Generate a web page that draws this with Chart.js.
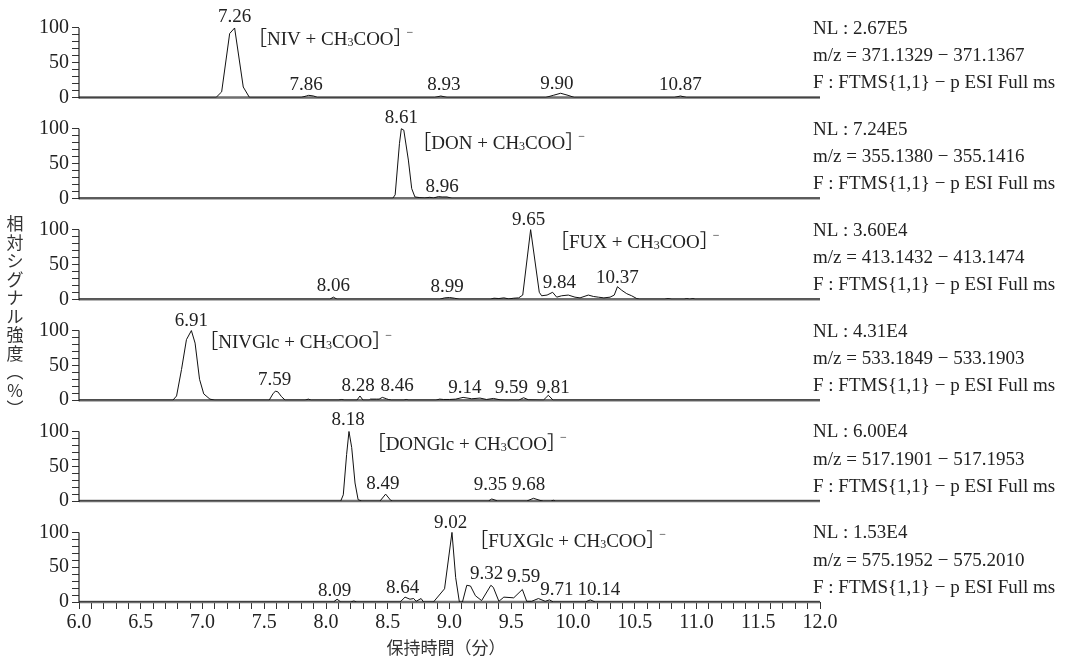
<!DOCTYPE html>
<html>
<head>
<meta charset="utf-8">
<script src="https://cdn.jsdelivr.net/npm/chart.js@4.4.1/dist/chart.umd.min.js"></script>
<style>
  html, body { margin: 0; padding: 0; background: #fff; }
</style>
</head>
<body>
<canvas id="myChart" width="1066" height="664"></canvas>
<script>
// 크로마토그램 데이터 (시간, 상대강도 %)
const nivTime = [6.0, 7.11, 7.155, 7.22, 7.26, 7.33, 7.38, 7.80, 7.84, 7.86, 7.90, 7.93, 8.88, 8.93, 8.98, 9.78, 9.84, 9.90, 9.96, 10.01, 10.82, 10.87, 10.92, 12.0];
const nivInt = [0, 0, 8, 92, 100, 15, 0, 0, 2, 3, 2, 0, 0, 2, 0, 0, 3, 6, 3, 0, 0, 2, 0, 0];

const donTime = [6.0, 8.54, 8.56, 8.595, 8.61, 8.63, 8.667, 8.694, 8.72, 8.76, 8.80, 8.84, 8.87, 8.91, 8.94, 8.98, 9.02, 12.0];
const donInt = [0, 0, 5, 79, 100, 98, 55, 14, 2, 1, 0.5, 1.5, 0.5, 2.5, 2, 2, 0, 0];

const fuxTime = [6.0, 8.03, 8.06, 8.09, 8.92, 8.96, 9.00, 9.04, 9.08, 9.33, 9.36, 9.40, 9.44, 9.48, 9.52, 9.56, 9.593, 9.657, 9.727, 9.746, 9.79, 9.835, 9.868, 9.908, 9.962, 10.016, 10.057, 10.124, 10.165, 10.205, 10.25, 10.30, 10.334, 10.36, 10.394, 10.435, 10.475, 10.516, 10.54, 10.74, 10.77, 10.80, 10.90, 10.92, 10.945, 10.97, 10.99, 12.0];
const fuxInt = [0, 0, 3, 0, 0, 2, 2.5, 1.5, 0, 0, 1.5, 1, 2, 0.5, 1.5, 2, 6, 100, 10, 5, 6, 10, 3, 5, 6, 3, 2, 6, 4, 3, 2, 3, 6, 18, 13, 8, 5, 1, 0, 0, 1, 0, 0, 1, 0, 1, 0, 0];

const nivGlcTime = [6.0, 6.76, 6.79, 6.83, 6.87, 6.91, 6.94, 6.976, 7.01, 7.06, 7.10, 7.54, 7.57, 7.59, 7.61, 7.64, 7.67, 7.83, 7.857, 7.88, 8.10, 8.127, 8.15, 8.25, 8.275, 8.30, 8.35, 8.36, 8.41, 8.43, 8.456, 8.49, 8.505, 8.53, 8.63, 8.65, 8.67, 8.89, 8.92, 8.95, 9.0, 9.05, 9.11, 9.18, 9.247, 9.30, 9.355, 9.41, 9.45, 9.56, 9.60, 9.64, 9.76, 9.80, 9.84, 12.0];
const nivGlcInt = [0, 0, 6, 44, 87, 100, 82, 30, 9, 1.5, 0, 0, 9, 13, 12, 5, 0, 0, 1.5, 0, 0, 1, 0, 0, 6, 0, 0, 1.5, 1.5, 1.5, 4, 2, 1, 0, 0, 1, 0, 0, 1.5, 1, 1, 1.5, 4, 2, 3, 1, 2.5, 0.5, 0, 0, 3.5, 0.5, 0, 7, 0, 0];

const donGlcTime = [6.0, 8.119, 8.14, 8.167, 8.186, 8.208, 8.235, 8.26, 8.29, 8.437, 8.483, 8.524, 8.54, 9.314, 9.342, 9.376, 9.39, 9.625, 9.68, 9.733, 9.76, 9.82, 9.84, 9.86, 12.0];
const donGlcInt = [0, 0, 9, 67, 100, 77, 26, 2, 0, 0, 10, 1, 0, 0, 3, 1, 0, 0, 4, 1, 0, 0, 1.2, 0, 0];

const fuxGlcTime = [6.0, 8.06, 8.09, 8.12, 8.20, 8.225, 8.25, 8.60, 8.64, 8.68, 8.71, 8.73, 8.77, 8.79, 8.87, 8.96, 9.02, 9.05, 9.08, 9.105, 9.14, 9.17, 9.21, 9.26, 9.335, 9.355, 9.40, 9.44, 9.52, 9.59, 9.625, 9.665, 9.72, 9.775, 9.81, 9.84, 10.10, 10.14, 10.18, 12.0];
const fuxGlcInt = [0, 0, 4, 0, 0, 1.5, 0, 0, 7, 4, 5, 1, 5, 0, 0, 19, 100, 35, 0, 0, 24, 23, 9, 2, 24, 21, 1, 7, 6, 18, 1, 1, 5, 1, 3, 0, 0, 3, 0, 0];

// 피크 라벨 (텍스트, 위치 시간, 라벨 밑단 높이 %)
const nivPeaks = ["7.26", "7.86", "8.93", "9.90", "10.87"];
const nivPeakX = [7.26, 7.84, 8.955, 9.87, 10.87];
const nivPeakH = [108, 10, 10, 12, 10];
const donPeaks = ["8.61", "8.96"];
const donPeakX = [8.61, 8.94];
const donPeakH = [108, 9.5];
const fuxPeaks = ["8.06", "8.99", "9.65", "9.84", "10.37"];
const fuxPeakX = [8.06, 8.98, 9.64, 9.89, 10.36];
const fuxPeakH = [12, 11, 106, 16, 23];
const nivGlcPeaks = ["6.91", "7.59", "8.28", "8.46", "9.14", "9.59", "9.81"];
const nivGlcPeakX = [6.91, 7.585, 8.26, 8.575, 9.125, 9.50, 9.84];
const nivGlcPeakH = [107, 22, 13, 13, 11, 11, 11];
const donGlcPeaks = ["8.18", "8.49", "9.35", "9.68"];
const donGlcPeakX = [8.18, 8.46, 9.33, 9.64];
const donGlcPeakH = [109, 17, 16, 16];
const fuxGlcPeaks = ["8.09", "8.64", "9.02", "9.32", "9.59", "9.71", "10.14"];
const fuxGlcPeakX = [8.07, 8.62, 9.01, 9.30, 9.60, 9.87, 10.21];
const fuxGlcPeakH = [9, 13, 107, 33, 29, 10, 10];

// 패널 정보
const compounds = ["NIV", "DON", "FUX", "NIVGlc", "DONGlc", "FUXGlc"];
const nlValues = ["2.67E5", "7.24E5", "3.60E4", "4.31E4", "6.00E4", "1.53E4"];
const mzRanges = ["371.1329 − 371.1367", "355.1380 − 355.1416", "413.1432 − 413.1474",
                  "533.1849 − 533.1903", "517.1901 − 517.1953", "575.1952 − 575.2010"];
const scanFilter = "F : FTMS{1,1} − p ESI Full ms";
const chemX = [7.45, 8.78, 9.895, 7.055, 8.41, 9.24];
const chemLevel = [83, 78, 81, 82, 81, 86];

// 축 라벨
const yTickLabels = [0, 50, 100];
const xTickLabels = ["6.0", "6.5", "7.0", "7.5", "8.0", "8.5", "9.0", "9.5", "10.0", "10.5", "11.0", "11.5", "12.0"];
const xTitle = "保持時間（分）";
const yTitle = "相対シグナル強度（%）";

const serif = "'Liberation Serif', 'Noto Sans CJK JP', serif";
const cjk = "'Noto Sans CJK JP', sans-serif";

const traces = [[nivTime, nivInt], [donTime, donInt], [fuxTime, fuxInt],
                [nivGlcTime, nivGlcInt], [donGlcTime, donGlcInt], [fuxGlcTime, fuxGlcInt]];
const peakTexts = [nivPeaks, donPeaks, fuxPeaks, nivGlcPeaks, donGlcPeaks, fuxGlcPeaks];
const peakXs = [nivPeakX, donPeakX, fuxPeakX, nivGlcPeakX, donGlcPeakX, fuxGlcPeakX];
const peakHs = [nivPeakH, donPeakH, fuxPeakH, nivGlcPeakH, donGlcPeakH, fuxGlcPeakH];

const panelIds = ["p1", "p2", "p3", "p4", "p5", "p6"];
const yMax = [140.3, 145, 145, 145, 145, 145];
const panelWeights = [97.5, 101, 101, 101, 101, 101];

// 화학식 라벨: ［NAME + CH3COO］⁻
function drawChem(ctx, x, y, name) {
  const big = "19px " + serif;
  const small = "12px " + serif;
  const parts = [
    ["［" + name + " + CH", big, 0, 0],
    ["3", small, 3, 0],
    ["COO］", big, 0, -6],
    ["−", small, -7, 0],
  ];
  x -= 10; // 전각 괄호 앞 여백 보정
  ctx.textAlign = "left";
  ctx.textBaseline = "middle";
  parts.forEach(function (p) {
    ctx.font = p[1];
    ctx.fillText(p[0], x, y + p[2]);
    x += ctx.measureText(p[0]).width + p[3];
  });
}

const panelPlugin = {
  id: "panels",
  beforeDatasetsDraw(chart) {
    const ctx = chart.ctx;
    const xs = chart.scales.x;
    ctx.save();
    panelIds.forEach(function (id) {
      const ys = chart.scales[id];
      const y0 = ys.getPixelForValue(0);
      // 기준선 (회색)
      ctx.strokeStyle = "#6e6e6e";
      ctx.lineWidth = 2.5;
      ctx.beginPath();
      ctx.moveTo(xs.left, y0);
      ctx.lineTo(xs.right, y0);
      ctx.stroke();
      // 세로축 선
      ctx.strokeStyle = "#222";
      ctx.lineWidth = 1.2;
      ctx.beginPath();
      ctx.moveTo(xs.left, y0 + 1);
      ctx.lineTo(xs.left, ys.getPixelForValue(100));
      ctx.stroke();
    });
    ctx.restore();
  },
  afterDraw(chart) {
    const ctx = chart.ctx;
    const xs = chart.scales.x;
    ctx.save();
    ctx.fillStyle = "#222";
    panelIds.forEach(function (id, i) {
      const ys = chart.scales[id];
      // 피크 라벨
      ctx.font = "19px " + serif;
      ctx.textAlign = "center";
      ctx.textBaseline = "alphabetic";
      peakTexts[i].forEach(function (s, k) {
        ctx.fillText(s, xs.getPixelForValue(peakXs[i][k]), ys.getPixelForValue(peakHs[i][k]));
      });
      drawChem(ctx, xs.getPixelForValue(chemX[i]), ys.getPixelForValue(chemLevel[i]), compounds[i]);
      // 오른쪽 정보
      ctx.font = "19px " + serif;
      ctx.textAlign = "left";
      ctx.textBaseline = "middle";
      const rx = xs.right - 7;
      const top = ys.getPixelForValue(100) + 1;
      const bot = ys.getPixelForValue(0) - 14;
      ctx.fillText("NL : " + nlValues[i], rx, top);
      ctx.fillText("m/z = " + mzRanges[i], rx, (top + bot) / 2);
      ctx.fillText(scanFilter, rx, bot);
    });
    // 축 제목
    ctx.fillStyle = "#333";
    ctx.font = "17px " + cjk;
    ctx.textAlign = "center";
    ctx.textBaseline = "middle";
    ctx.fillText(xTitle, 446, 648);
    Array.from(yTitle).forEach(function (c, k) {
      const v = c === "（" ? "︵" : c === "）" ? "︶" : c === "%" ? "％" : c;
      ctx.fillText(v, 15, 224 + k * 18.5);
    });
    ctx.restore();
  },
};

const scales = {
  x: {
    type: "linear",
    position: "bottom",
    min: 6,
    max: 12,
    border: { display: false },
    grid: { drawOnChartArea: false, tickLength: 7, tickColor: "#333", tickWidth: 1 },
    ticks: {
      stepSize: 0.1,
      maxTicksLimit: 100,
      autoSkip: false,
      maxRotation: 0,
      minRotation: 0,
      padding: 2,
      color: "#222",
      font: { family: serif, size: 20 },
      callback: function (value) {
        const s = (Math.round(value * 10) / 10).toFixed(1);
        return xTickLabels.includes(s) ? s : "";
      },
    },
    afterFit: function (axis) {
      axis.height = 40;
      axis.paddingLeft = 0;
      axis.paddingRight = 0;
    },
  },
};

panelIds.forEach(function (id, i) {
  scales[id] = {
    type: "linear",
    position: "left",
    stack: "panels",
    stackWeight: panelWeights[i],
    weight: 6 - i,
    min: 0,
    max: yMax[i],
    border: { display: false },
    grid: { drawOnChartArea: false, tickLength: 7, tickColor: "#333", tickWidth: 1 },
    ticks: {
      stepSize: 10,
      maxTicksLimit: 100,
      autoSkip: false,
      padding: 3,
      color: "#222",
      font: { family: serif, size: 20 },
      callback: function (value) {
        return yTickLabels.includes(value) ? String(value) : "";
      },
    },
    afterBuildTicks: function (axis) {
      axis.ticks = axis.ticks.filter(function (t) { return t.value <= 100; });
    },
    afterFit: function (axis) {
      axis.width = 79;
      axis.paddingTop = 0;
      axis.paddingBottom = 0;
    },
  };
});

const ctx = document.getElementById("myChart").getContext("2d");
const myChart = new Chart(ctx, {
  type: "line",
  data: {
    datasets: traces.map(function (tr, i) {
      return {
        data: tr[0].map(function (t, k) { return { x: t, y: tr[1][k] }; }),
        yAxisID: panelIds[i],
        borderColor: "#111",
        borderWidth: 1,
        pointRadius: 0,
        tension: 0,
        fill: false,
      };
    }),
  },
  options: {
    responsive: false,
    animation: false,
    devicePixelRatio: 1,
    layout: { padding: { left: 0, right: 246, top: 0, bottom: 22 } },
    scales: scales,
    plugins: {
      legend: { display: false },
      tooltip: { enabled: false },
    },
  },
  plugins: [panelPlugin],
});
</script>
</body>
</html>
